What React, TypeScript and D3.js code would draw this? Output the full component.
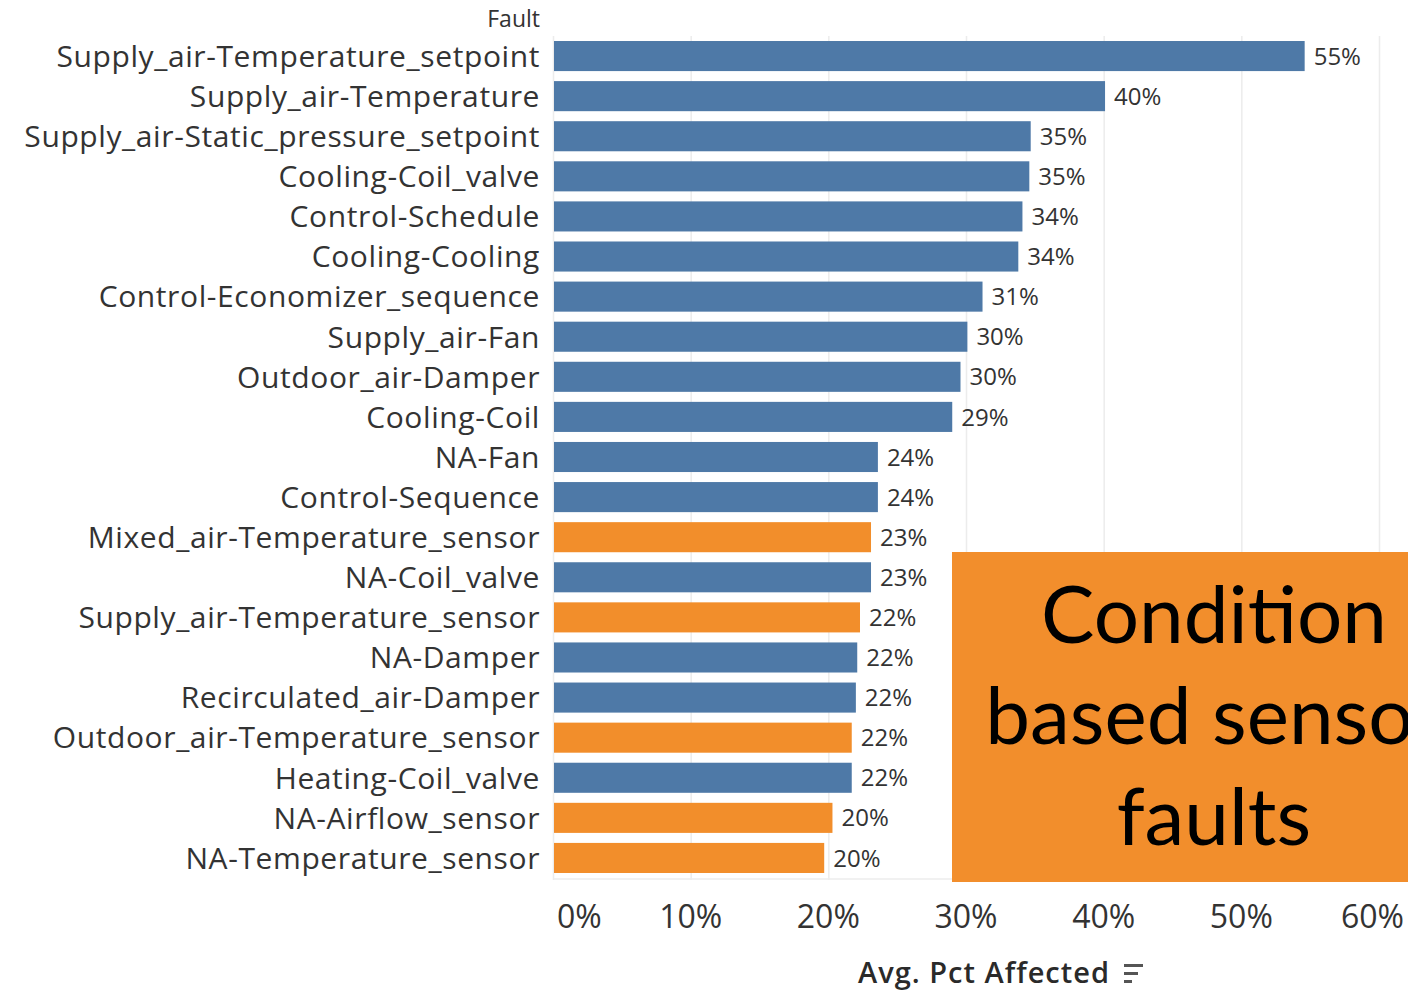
import React from "react";
import * as d3 from "d3";

// Fault categories, sorted by average percent of buildings affected
const faults = [
  "Supply_air-Temperature_setpoint",
  "Supply_air-Temperature",
  "Supply_air-Static_pressure_setpoint",
  "Cooling-Coil_valve",
  "Control-Schedule",
  "Cooling-Cooling",
  "Control-Economizer_sequence",
  "Supply_air-Fan",
  "Outdoor_air-Damper",
  "Cooling-Coil",
  "NA-Fan",
  "Control-Sequence",
  "Mixed_air-Temperature_sensor",
  "NA-Coil_valve",
  "Supply_air-Temperature_sensor",
  "NA-Damper",
  "Recirculated_air-Damper",
  "Outdoor_air-Temperature_sensor",
  "Heating-Coil_valve",
  "NA-Airflow_sensor",
  "NA-Temperature_sensor",
];

const pctAffected = [
  0.546, 0.401, 0.347, 0.346, 0.341, 0.338, 0.312, 0.301, 0.296, 0.29, 0.236,
  0.236, 0.231, 0.231, 0.223, 0.221, 0.22, 0.217, 0.217, 0.203, 0.197,
];

// Condition-based sensor faults are highlighted
const isSensorFault = [
  false, false, false, false, false, false, false, false, false, false, false,
  false, true, false, true, false, false, true, false, true, true,
];

const xTicks = [0, 0.1, 0.2, 0.3, 0.4, 0.5, 0.6];
const calloutLines = ["Condition", "based sensor", "faults"];

const W = 1408;
const H = 991;
const BLUE = "#4e79a7";
const ORANGE = "#f28e2b";
const FONT = "'Open Sans', 'DejaVu Sans', sans-serif";

export default function App() {
  const x = d3.scaleLinear().domain([0, 0.6]).range([553, 1379]);
  const y = d3
    .scaleBand<string>()
    .domain(faults)
    .range([36, 878])
    .paddingInner(0.25)
    .paddingOuter(0.125);
  const pctFmt = d3.format(".0%");

  const tickX = (t: number, i: number) => {
    if (i === 0) return { x: 557, anchor: "start" };
    if (i === xTicks.length - 1) return { x: 1404, anchor: "end" };
    return { x: x(t), anchor: "middle" };
  };

  return (
    <svg
      width={W}
      height={H}
      style={{ position: "absolute", left: 0, top: 0, background: "#fff" }}
      fontFamily={FONT}
    >
      {/* vertical gridlines */}
      {xTicks.map((t) => (
        <line
          key={"g" + t}
          x1={x(t) + 0.5}
          x2={x(t) + 0.5}
          y1={36}
          y2={880}
          stroke="#ececec"
          strokeWidth={1.5}
        />
      ))}
      <line x1={553} x2={1408} y1={879} y2={879} stroke="#ececec" strokeWidth={1.5} />

      {/* column header */}
      <text x={540} y={27} textAnchor="end" fontSize={23} fill="#333">
        Fault
      </text>

      {/* bars, category labels and values */}
      {faults.map((f, i) => {
        const yy = y(f)!;
        const bw = y.bandwidth();
        const v = pctAffected[i];
        return (
          <g key={f}>
            <text
              x={540}
              y={yy + bw / 2}
              dy="0.36em"
              textAnchor="end"
              fontSize={30}
              letterSpacing={0.6}
              fill="#333"
            >
              {f}
            </text>
            <rect
              x={x(0) + 1}
              y={yy}
              width={x(v) - x(0) - 1}
              height={bw}
              fill={isSensorFault[i] ? ORANGE : BLUE}
            />
            <text
              x={x(v) + 9}
              y={yy + bw / 2}
              dy="0.36em"
              fontSize={24}
              fill="#333"
            >
              {pctFmt(v)}
            </text>
          </g>
        );
      })}

      {/* x axis tick labels */}
      {xTicks.map((t, i) => {
        const p = tickX(t, i);
        return (
          <text
            key={"t" + t}
            x={p.x}
            y={928}
            textAnchor={p.anchor as any}
            fontSize={32}
            fill="#333"
          >
            {pctFmt(t)}
          </text>
        );
      })}

      {/* axis title with sort indicator */}
      <text
        x={1110}
        y={983}
        textAnchor="end"
        fontSize={29}
        fontWeight={600}
        letterSpacing={1}
        fill="#2a2a2a"
      >
        Avg. Pct Affected
      </text>
      <g fill="#555">
        <rect x={1124} y={964} width={19} height={3} />
        <rect x={1124} y={972} width={14} height={3} />
        <rect x={1124} y={980} width={8} height={3} />
      </g>

      {/* callout box */}
      <rect x={952} y={552} width={530} height={330} fill="#f28e2c" />
      {calloutLines.map((l, i) => (
        <text
          key={l}
          x={1214}
          y={643 + i * 101}
          textAnchor="middle"
          fontSize={80}
          fill="#000"
          fontFamily="Lato, 'Open Sans', sans-serif"
        >
          {l}
        </text>
      ))}
    </svg>
  );
}
